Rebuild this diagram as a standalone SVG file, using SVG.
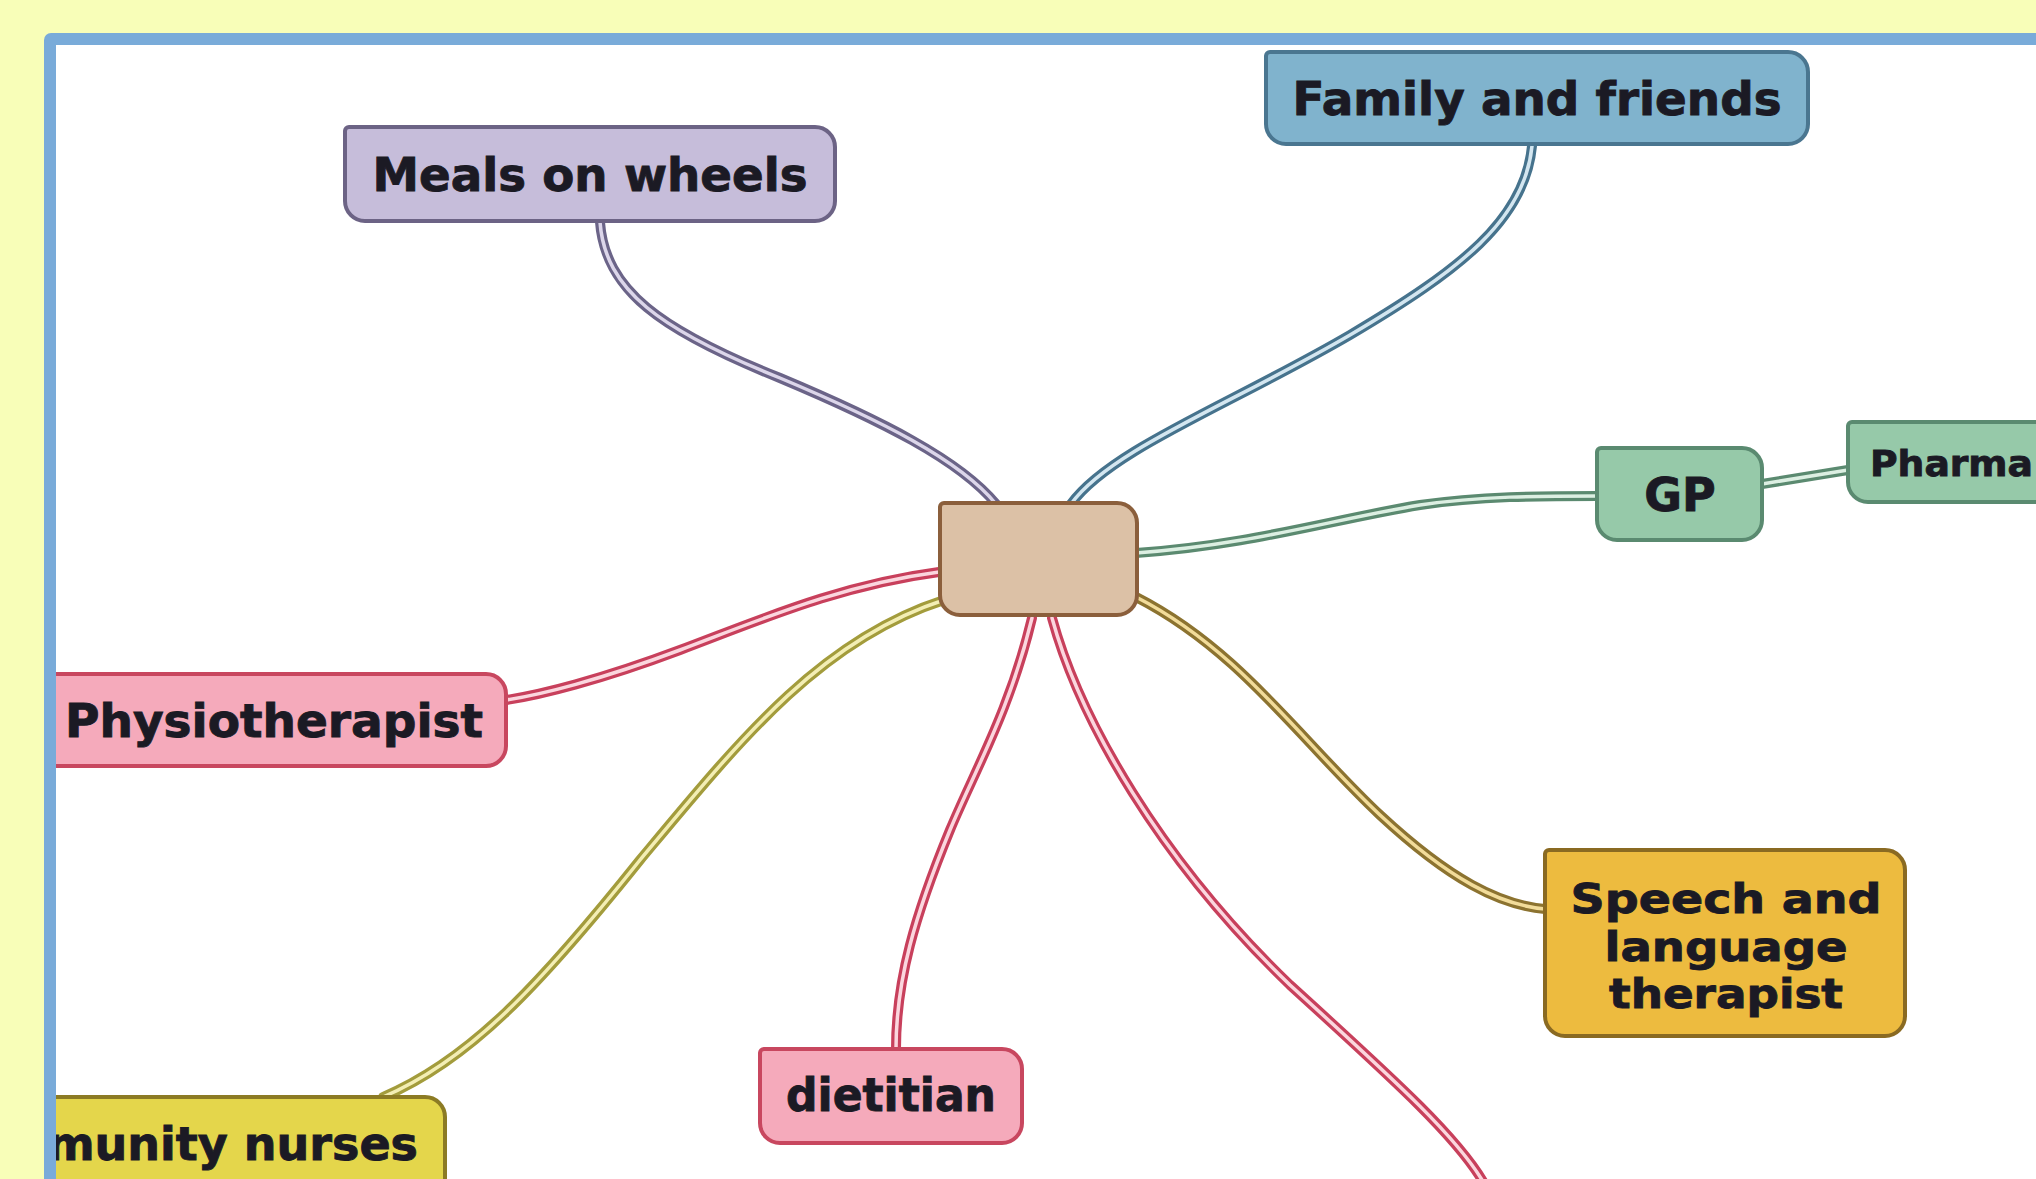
<svg xmlns="http://www.w3.org/2000/svg" width="2036" height="1179" viewBox="0 0 2036 1179">
<style>
.lbl{font-family:"DejaVu Sans","Liberation Sans",sans-serif;font-weight:bold;font-size:46px;fill:#1b1a24;stroke:#1b1a24;stroke-width:0.9;}
.sp{font-size:41px;}
.node{stroke-width:4;}
.o{fill:none;stroke-width:10;stroke-linecap:round;}
.i{fill:none;stroke-width:3.5;stroke-linecap:round;}
</style>
<defs>
<clipPath id="inner"><rect x="56" y="45" width="1980" height="1134"/></clipPath>
</defs>
<rect x="0" y="0" width="2036" height="1179" fill="#f8feb8"/>
<rect x="44" y="33" width="2100" height="1300" rx="7" fill="#79abd9"/>
<rect x="56" y="45" width="2000" height="1200" fill="#ffffff"/>
<g clip-path="url(#inner)">
<g id="connectors">
<path class="o" stroke="#6b6488" d="M600,222 C605,290 660,330 780,378 C880,420 960,460 996,504"/>
<path class="i" stroke="#dcd6ea" d="M600,222 C605,290 660,330 780,378 C880,420 960,460 996,504"/>
<path class="o" stroke="#46738d" d="M1532,146 C1525,220 1460,270 1350,335 C1230,405 1110,450 1071,504"/>
<path class="i" stroke="#d3e6f0" d="M1532,146 C1525,220 1460,270 1350,335 C1230,405 1110,450 1071,504"/>
<path class="o" stroke="#5b8a70" d="M1136,553 C1250,545 1330,520 1420,505 C1480,496 1540,496 1597,496"/>
<path class="i" stroke="#dcefe2" d="M1136,553 C1250,545 1330,520 1420,505 C1480,496 1540,496 1597,496"/>
<path class="o" stroke="#5b8a70" d="M1762,484 L1848,470"/>
<path class="i" stroke="#dcefe2" d="M1762,484 L1848,470"/>
<path class="o" stroke="#c8405c" d="M939,572 C840,585 760,620 680,650 C600,680 540,695 506,700"/>
<path class="i" stroke="#fbd6de" d="M939,572 C840,585 760,620 680,650 C600,680 540,695 506,700"/>
<path class="o" stroke="#a39c3c" d="M944,600 C820,640 740,740 640,860 C540,985 470,1060 383,1097"/>
<path class="i" stroke="#f3eeb4" d="M944,600 C820,640 740,740 640,860 C540,985 470,1060 383,1097"/>
<path class="o" stroke="#c8405c" d="M1032,618 C1010,710 975,770 950,830 C915,915 896,980 896,1049"/>
<path class="i" stroke="#fbd6de" d="M1032,618 C1010,710 975,770 950,830 C915,915 896,980 896,1049"/>
<path class="o" stroke="#c8405c" d="M1052,618 C1080,720 1160,860 1290,985 C1400,1085 1460,1140 1485,1185"/>
<path class="i" stroke="#fbd6de" d="M1052,618 C1080,720 1160,860 1290,985 C1400,1085 1460,1140 1485,1185"/>
<path class="o" stroke="#8c7330" d="M1136,597 C1240,650 1300,740 1380,815 C1450,880 1500,905 1545,909"/>
<path class="i" stroke="#f2dc9a" d="M1136,597 C1240,650 1300,740 1380,815 C1450,880 1500,905 1545,909"/>
</g>
<g id="center">
<path class="node" fill="#dcc1a6" stroke="#8b5f3c" stroke-width="5" d="M944,503 H1117 A20,20 0 0 1 1137,523 V595 A20,20 0 0 1 1117,615 H960 A20,20 0 0 1 940,595 V507 A4,4 0 0 1 944,503 Z"/>
</g>
<g id="meals">
<path class="node" fill="#c6bdda" stroke="#6c6385" d="M349,127 H815 A20,20 0 0 1 835,147 V201 A20,20 0 0 1 815,221 H365 A20,20 0 0 1 345,201 V131 A4,4 0 0 1 349,127 Z"/>
<text class="lbl" x="590" y="191" text-anchor="middle" textLength="435" lengthAdjust="spacingAndGlyphs">Meals on wheels</text>
</g>
<g id="family">
<path class="node" fill="#80b3cd" stroke="#4a7690" d="M1270,52 H1788 A20,20 0 0 1 1808,72 V124 A20,20 0 0 1 1788,144 H1286 A20,20 0 0 1 1266,124 V56 A4,4 0 0 1 1270,52 Z"/>
<text class="lbl" x="1537" y="115" text-anchor="middle" textLength="489" lengthAdjust="spacingAndGlyphs">Family and friends</text>
</g>
<g id="gp">
<path class="node" fill="#96c9a9" stroke="#5a8a70" d="M1601,448 H1742 A20,20 0 0 1 1762,468 V520 A20,20 0 0 1 1742,540 H1617 A20,20 0 0 1 1597,520 V452 A4,4 0 0 1 1601,448 Z"/>
<text class="lbl" x="1680" y="511" text-anchor="middle">GP</text>
</g>
<g id="pharma">
<path class="node" fill="#96c9a9" stroke="#5a8a70" d="M1852,422 H2078 A20,20 0 0 1 2098,442 V482 A20,20 0 0 1 2078,502 H1868 A20,20 0 0 1 1848,482 V426 A4,4 0 0 1 1852,422 Z"/>
<text class="lbl" x="1870" y="476" style="font-size:36px" textLength="163" lengthAdjust="spacingAndGlyphs">Pharma</text>
</g>
<g id="physio">
<path class="node" fill="#f5aabb" stroke="#c8475f" d="M24,674 H486 A20,20 0 0 1 506,694 V746 A20,20 0 0 1 486,766 H40 A20,20 0 0 1 20,746 V678 A4,4 0 0 1 24,674 Z"/>
<text class="lbl" x="65" y="737" textLength="418" lengthAdjust="spacingAndGlyphs">Physiotherapist</text>
</g>
<g id="nurses">
<path class="node" fill="#e4d64b" stroke="#8c7b24" d="M24,1097 H425 A20,20 0 0 1 445,1117 V1197 A20,20 0 0 1 425,1217 H40 A20,20 0 0 1 20,1197 V1101 A4,4 0 0 1 24,1097 Z"/>
<text class="lbl" x="418" y="1160" text-anchor="end">munity nurses</text>
</g>
<g id="speech">
<path class="node" fill="#edbb3f" stroke="#8a6a22" d="M1549,850 H1885 A20,20 0 0 1 1905,870 V1016 A20,20 0 0 1 1885,1036 H1565 A20,20 0 0 1 1545,1016 V854 A4,4 0 0 1 1549,850 Z"/>
<text class="lbl sp" x="1726" y="913" text-anchor="middle" textLength="311" lengthAdjust="spacingAndGlyphs">Speech and</text>
<text class="lbl sp" x="1726" y="961" text-anchor="middle" textLength="243" lengthAdjust="spacingAndGlyphs">language</text>
<text class="lbl sp" x="1726" y="1008" text-anchor="middle" textLength="234" lengthAdjust="spacingAndGlyphs">therapist</text>
</g>
<g id="dietitian">
<path class="node" fill="#f5aabb" stroke="#c8475f" d="M764,1049 H1002 A20,20 0 0 1 1022,1069 V1123 A20,20 0 0 1 1002,1143 H780 A20,20 0 0 1 760,1123 V1053 A4,4 0 0 1 764,1049 Z"/>
<text class="lbl" x="891" y="1111" text-anchor="middle" textLength="210" lengthAdjust="spacingAndGlyphs">dietitian</text>
</g>
</g>
</svg>
